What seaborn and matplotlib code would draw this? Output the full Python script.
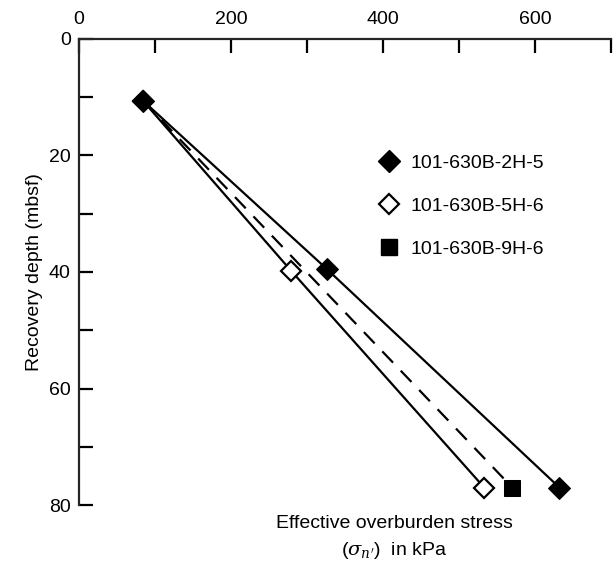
import matplotlib
matplotlib.use("Agg")
import matplotlib.pyplot as plt
from matplotlib.lines import Line2D
import pandas as pd
import seaborn as sns

# values
stress_2h5 = [84, 326, 632]
depth_2h5 = [10.6, 39.5, 77.0]
stress_5h6 = [84, 279, 533]
depth_5h6 = [10.6, 39.8, 77.0]
stress_9h6 = [84, 570]
depth_9h6 = [10.6, 77.0]
sample_names = ["101-630B-2H-5", "101-630B-5H-6", "101-630B-9H-6"]
x_ticks = [0, 100, 200, 300, 400, 500, 600, 700]
x_tick_labels = ["0", "", "200", "", "400", "", "600", ""]
y_ticks = [0, 10, 20, 30, 40, 50, 60, 70, 80]
y_tick_labels = ["0", "", "20", "", "40", "", "60", "", "80"]

sns.set_style("ticks")
plt.rcParams['font.family'] = ['Liberation Sans', 'DejaVu Sans']
plt.rcParams['mathtext.fontset'] = 'dejavuserif'
plt.rcParams['text.color'] = 'black'
plt.rcParams['axes.labelcolor'] = 'black'
plt.rcParams['xtick.color'] = 'black'
plt.rcParams['ytick.color'] = 'black'

fig = plt.figure(figsize=(6.13, 5.72), dpi=100)
ax = fig.add_axes([0.129, 0.117, 0.868, 0.815])

df_a = pd.DataFrame({"stress": stress_2h5, "depth": depth_2h5})
df_b = pd.DataFrame({"stress": stress_5h6, "depth": depth_5h6})
df_c = pd.DataFrame({"stress": stress_9h6, "depth": depth_9h6})

# shared surface point sits under the filled diamond, so the square only marks its end
sns.lineplot(data=df_c, x="stress", y="depth", ax=ax, sort=False, color="black",
             lw=1.6, linestyle=(0, (7, 5)), marker="s", markersize=11,
             markevery=[1], markeredgecolor="black", markerfacecolor="black")
sns.lineplot(data=df_b, x="stress", y="depth", ax=ax, sort=False, color="black",
             lw=1.6, marker="D", markersize=10, markeredgewidth=1.6,
             markeredgecolor="black", markerfacecolor="white")
sns.lineplot(data=df_a, x="stress", y="depth", ax=ax, sort=False, color="black",
             lw=1.6, marker="D", markersize=11,
             markeredgecolor="black", markerfacecolor="black")

ax.set_xlim(0, 700)
ax.set_ylim(80, 0)
ax.xaxis.tick_top()
ax.set_xticks(x_ticks)
ax.set_xticklabels(x_tick_labels)
ax.set_yticks(y_ticks)
ax.set_yticklabels(y_tick_labels)
ax.tick_params(axis="both", direction="in", length=10, width=1.6,
               labelsize=14, color="black")
ax.tick_params(axis="x", pad=8)
ax.tick_params(axis="y", pad=6)

ax.spines["right"].set_visible(False)
ax.spines["bottom"].set_visible(False)
ax.spines["top"].set_linewidth(1.6)
ax.spines["left"].set_linewidth(1.6)

ax.set_ylabel("Recovery depth (mbsf)", fontsize=14)
ax.xaxis.set_label_position("bottom")
ax.set_xlabel("Effective overburden stress\n($\\sigma_{n'}$)  in kPa", fontsize=14,
              linespacing=1.5)
ax.xaxis.set_label_coords(0.592, -0.022)

handles = [
    Line2D([], [], linestyle="none", marker="D", markersize=11, color="black"),
    Line2D([], [], linestyle="none", marker="D", markersize=10, markeredgewidth=1.6,
           markeredgecolor="black", markerfacecolor="white"),
    Line2D([], [], linestyle="none", marker="s", markersize=11, color="black"),
]
ax.legend(handles, sample_names, loc="upper left", bbox_to_anchor=(0.527, 0.79),
          frameon=False, fontsize=14, handletextpad=0.5, labelspacing=1.3,
          handlelength=1.2)

fig.savefig("out.png", dpi=100)
